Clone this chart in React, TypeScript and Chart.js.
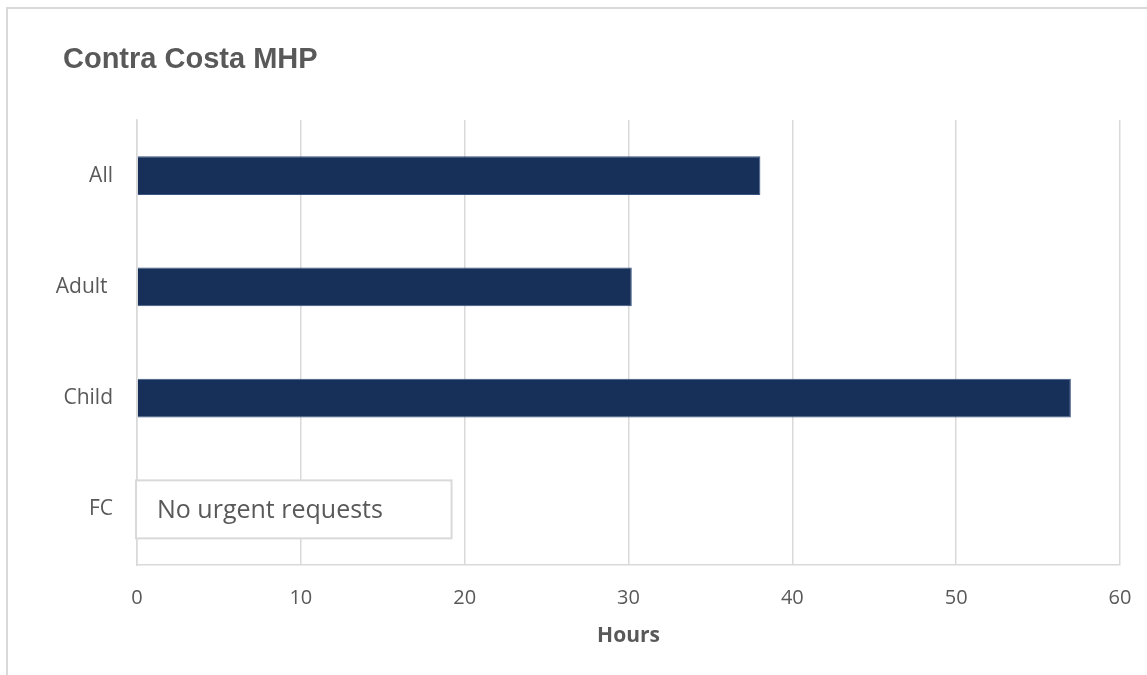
import React, { useEffect, useRef } from "react";
import { Chart, registerables } from "chart.js";

Chart.register(...registerables);

const TITLE = "Contra Costa MHP";
const categories = ["All", "Adult ", "Child", "FC"];
const hours: (number | null)[] = [38.05, 30.2, 57.0, null];
const xTickMin = 0;
const xTickMax = 60;
const xTickStep = 10;
const axisTitle = "Hours";
const noteText = "No urgent requests";
const noteCategoryIndex = 3;
const noteEndValue = 19.2;

const GREY_TEXT = "#595959";
const GRID = "#d9d9d9";
const BAR = "#17305a";
const FONT = "'Open Sans', 'Noto Sans', sans-serif";

const overlayPlugin = {
  id: "overlay",
  afterDatasetsDraw(chart: any) {
    const { ctx, scales } = chart;
    const xs = scales.x;
    const ys = scales.y;
    ctx.save();
    const cy = ys.getPixelForValue(noteCategoryIndex);
    const left = xs.getPixelForValue(0) - 1;
    const right = xs.getPixelForValue(noteEndValue);
    const h = 58;
    ctx.fillStyle = "#ffffff";
    ctx.fillRect(left, cy - h / 2, right - left, h);
    ctx.strokeStyle = GRID;
    ctx.lineWidth = 2;
    ctx.strokeRect(left, cy - h / 2, right - left, h);
    ctx.fillStyle = GREY_TEXT;
    ctx.font = `25px ${FONT}`;
    ctx.textAlign = "left";
    ctx.textBaseline = "middle";
    ctx.fillText(noteText, left + 21, cy + 1);
    ctx.restore();
  },
  afterDraw(chart: any) {
    const { ctx } = chart;
    ctx.save();
    ctx.fillStyle = GREY_TEXT;
    ctx.font = "bold 29px 'Liberation Sans', Arial, sans-serif";
    ctx.textAlign = "left";
    ctx.textBaseline = "middle";
    ctx.fillText(TITLE, 63, 60);
    ctx.restore();
  },
};

export default function App() {
  const ref = useRef<HTMLCanvasElement | null>(null);

  useEffect(() => {
    if (!ref.current) return;
    const chart = new Chart(ref.current, {
      type: "bar",
      data: {
        labels: categories,
        datasets: [
          {
            data: hours as any,
            backgroundColor: BAR,
            borderColor: "#3b5480",
            borderWidth: 1,
            barPercentage: 0.35,
            categoryPercentage: 1,
          },
        ],
      },
      options: {
        indexAxis: "y",
        animation: false,
        responsive: false,
        maintainAspectRatio: false,
        layout: { padding: { top: 120, left: 0, right: 27, bottom: 0 } },
        plugins: {
          legend: { display: false },
          tooltip: { enabled: false },
          title: { display: false },
        },
        scales: {
          x: {
            min: xTickMin,
            max: xTickMax,
            ticks: {
              stepSize: xTickStep,
              color: GREY_TEXT,
              padding: 21,
              font: { family: FONT, size: 20 },
            },
            grid: { color: GRID, lineWidth: 1.5, drawTicks: false },
            border: { display: true, color: GRID, width: 1.5 },
            title: {
              display: true,
              text: axisTitle,
              color: GREY_TEXT,
              font: { family: FONT, size: 21, weight: "bold" },
              padding: { top: 0, bottom: 26 },
            },
            afterFit(scale: any) {
              scale.height = 110;
              scale.paddingLeft = 0;
              scale.paddingRight = 0;
            },
          },
          y: {
            ticks: {
              color: GREY_TEXT,
              padding: 24,
              font: { family: FONT, size: 21 },
            },
            grid: { display: false, drawTicks: false },
            border: { display: true, color: GRID, width: 1.5 },
            afterFit(scale: any) {
              scale.width = 137;
              scale.paddingTop = 0;
              scale.paddingBottom = 0;
            },
          },
        },
      },
      plugins: [overlayPlugin],
    });
    return () => chart.destroy();
  }, []);

  return (
    <div style={{ position: "fixed", left: 0, top: 0, width: 1147, height: 675, background: "#fff", overflow: "hidden" }}>
      <div
        style={{
          position: "absolute",
          left: 6,
          top: 7,
          width: 1141,
          height: 668,
          borderLeft: `2px solid ${GRID}`,
          borderTop: `2px solid ${GRID}`,
        }}
      />
      <canvas ref={ref} width={1147} height={675} style={{ position: "absolute", left: 0, top: 0, width: 1147, height: 675 }} />
    </div>
  );
}
